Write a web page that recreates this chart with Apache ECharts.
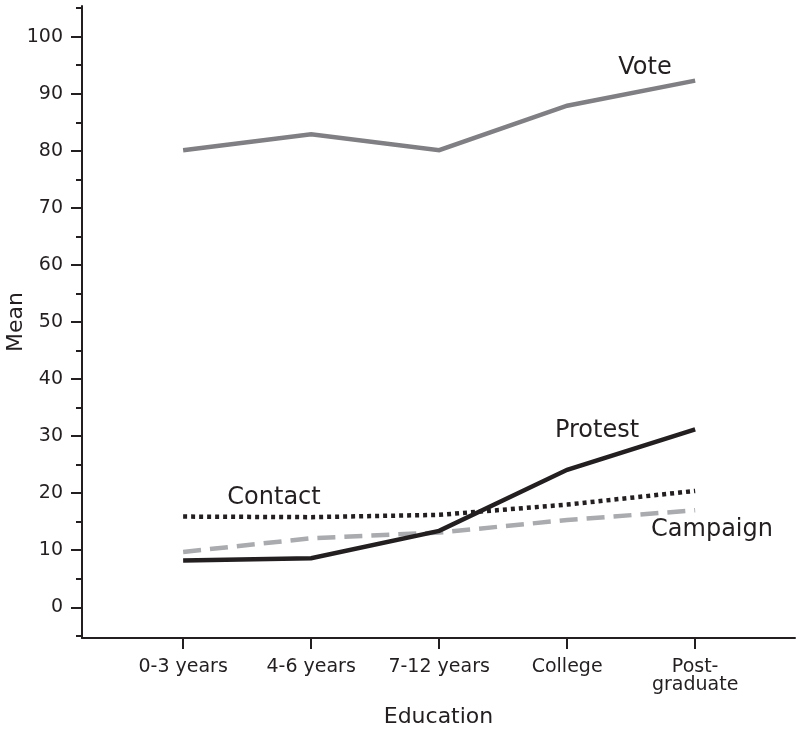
<!DOCTYPE html>
<html>
<head>
<meta charset="utf-8">
<script src="https://cdn.jsdelivr.net/npm/echarts@6/dist/echarts.min.js"></script>
<style>
html,body{margin:0;padding:0;background:#fff;}
#chart{width:797px;height:732px;}
</style>
</head>
<body>
<div id="chart"></div>
<script>
const categories = ['0-3 years', '4-6 years', '7-12 years', 'College', 'Post-\ngraduate'];
const vote     = [80.1, 82.9, 80.1, 87.9, 92.3];
const protest  = [8.2, 8.6, 13.4, 24.1, 31.2];
const contact  = [15.9, 15.8, 16.2, 18.0, 20.4];
const campaign = [9.7, 12.1, 13.1, 15.3, 17.0];
const yMajorTicks = [0, 10, 20, 30, 40, 50, 60, 70, 80, 90, 100];
const yMinorTicks = [-5, 5, 15, 25, 35, 45, 55, 65, 75, 85, 95, 105];

const positions = categories.map((c, i) => i + 1);
const toPairs = arr => arr.map((v, i) => [positions[i], v]);

const FONT = 'DejaVu Sans';
const INK = '#231f20';
const yMin = -5.38, yMax = 105.38;

const chart = echarts.init(document.getElementById('chart'), null, {renderer: 'canvas'});

const lineSeries = (name, data, color, width, type) => ({
  name, type: 'line', data: toPairs(data), symbol: 'none', silent: true,
  lineStyle: {color, width, type, cap: 'butt', join: 'miter'},
  xAxisIndex: 0, yAxisIndex: 0, animation: false
});

chart.setOption({
  animation: false,
  backgroundColor: '#fff',
  grid: {left: 82, right: 2, top: 6, bottom: 94, containLabel: false, outerBoundsMode: 'none'},
  xAxis: {
    type: 'value', min: 0.21, max: 5.78,
    name: 'Education', nameLocation: 'middle', nameGap: 68, nameMoveOverlap: false,
    nameTextStyle: {fontFamily: FONT, fontSize: 22, color: INK},
    axisLine: {show: true, onZero: false, lineStyle: {color: INK, width: 2}},
    axisTick: {show: true, length: 11, lineStyle: {color: INK, width: 2}, customValues: positions},
    axisLabel: {
      fontFamily: FONT, fontSize: 19, color: INK, margin: 20, lineHeight: 18,
      customValues: positions,
      formatter: v => categories[Math.round(v) - 1] || ''
    },
    splitLine: {show: false}
  },
  yAxis: [{
    type: 'value', min: yMin, max: yMax, position: 'left',
    name: 'Mean', nameLocation: 'middle', nameGap: 55, nameMoveOverlap: false,
    nameTextStyle: {fontFamily: FONT, fontSize: 22, color: INK},
    axisLine: {show: true, onZero: false, lineStyle: {color: INK, width: 2}},
    axisTick: {show: true, length: 11, lineStyle: {color: INK, width: 2}, customValues: yMajorTicks},
    axisLabel: {fontFamily: FONT, fontSize: 19, color: INK, margin: 19, customValues: yMajorTicks},
    splitLine: {show: false}
  }, {
    type: 'value', min: yMin, max: yMax, position: 'left',
    axisLine: {show: false, onZero: false},
    axisTick: {show: true, length: 6, lineStyle: {color: INK, width: 2}, customValues: yMinorTicks},
    axisLabel: {show: false, customValues: yMinorTicks},
    splitLine: {show: false}
  }],
  series: [
    lineSeries('Vote', vote, '#808084', 4.5, 'solid'),
    lineSeries('Campaign', campaign, '#a9abae', 4.5, [18, 9]),
    lineSeries('Contact', contact, INK, 4.5, [4, 4]),
    lineSeries('Protest', protest, INK, 4.5, 'solid')
  ],
  graphic: [
    {type: 'text', x: 645, y: 68, style: {text: 'Vote', font: '24px "DejaVu Sans"', fill: INK, align: 'center', verticalAlign: 'middle'}},
    {type: 'text', x: 597, y: 431, style: {text: 'Protest', font: '24px "DejaVu Sans"', fill: INK, align: 'center', verticalAlign: 'middle'}},
    {type: 'text', x: 274, y: 498, style: {text: 'Contact', font: '24px "DejaVu Sans"', fill: INK, align: 'center', verticalAlign: 'middle'}},
    {type: 'text', x: 712, y: 530, style: {text: 'Campaign', font: '24px "DejaVu Sans"', fill: INK, align: 'center', verticalAlign: 'middle'}}
  ]
});
</script>
</body>
</html>
